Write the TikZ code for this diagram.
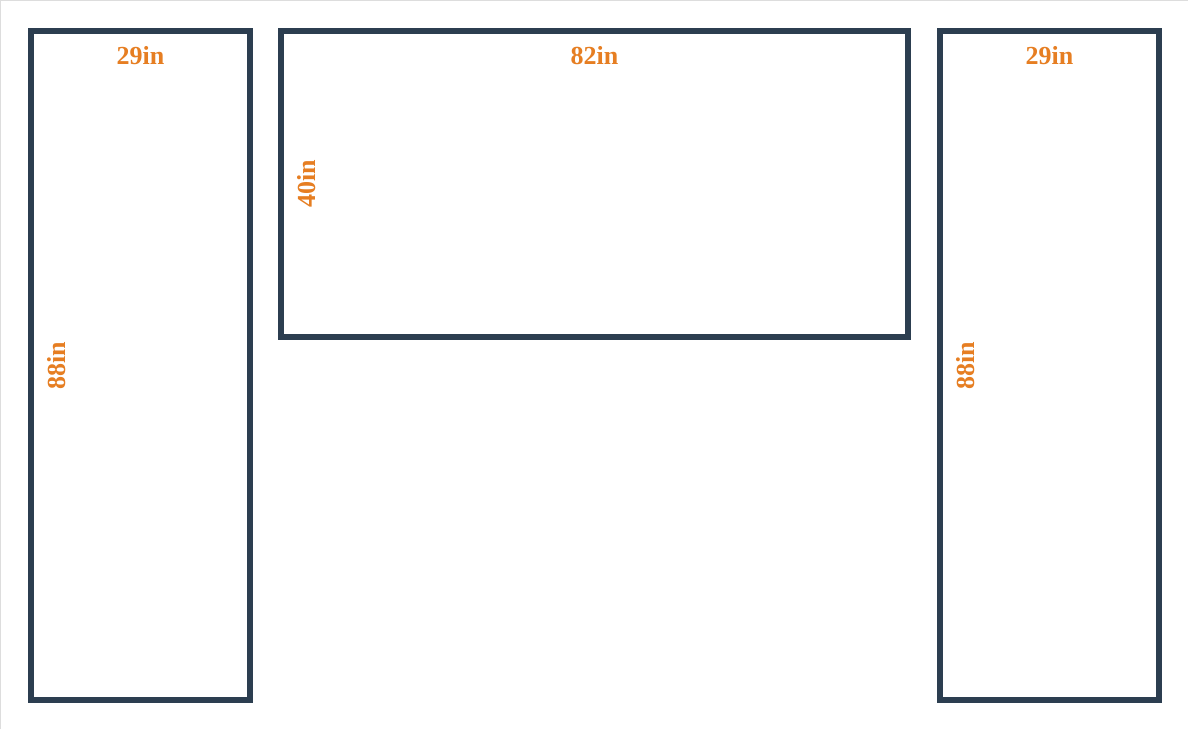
\documentclass[tikz,border=0pt]{standalone}
\usepackage{fontspec}
\setmainfont{Liberation Serif}
\definecolor{boxcol}{HTML}{2C3E50}
\definecolor{labcol}{HTML}{E67E22}
\definecolor{framecol}{HTML}{DDDDDD}
\begin{document}
\begin{tikzpicture}[x=1pt,y=-1pt,
  panel/.style={draw=boxcol,line width=6pt,fill=white},
  dimlab/.style={text=labcol,font=\fontsize{26}{30}\selectfont\bfseries,inner sep=0pt,anchor=base},
  vdimlab/.style={dimlab,rotate=90}]
\useasboundingbox (0,0) rectangle (1188,729);
\fill[white] (0,0) rectangle (1188,729);
\draw[framecol,line width=1pt] (0.5,729) -- (0.5,0.5) -- (1188,0.5);
% panels
\draw[panel] (31,31) rectangle (250,700);
\draw[panel] (281,31) rectangle (908,337);
\draw[panel] (940,31) rectangle (1159,700);
% labels
\node[dimlab] (lw) at (140.5,64) {29in};
\node[vdimlab] (lh) at (65,365.5) {88in};
\node[dimlab] (mw) at (594.5,64) {82in};
\node[vdimlab] (mh) at (315,184) {40in};
\node[dimlab] (rw) at (1049.5,64) {29in};
\node[vdimlab] (rh) at (974,365.5) {88in};
\end{tikzpicture}
\end{document}
